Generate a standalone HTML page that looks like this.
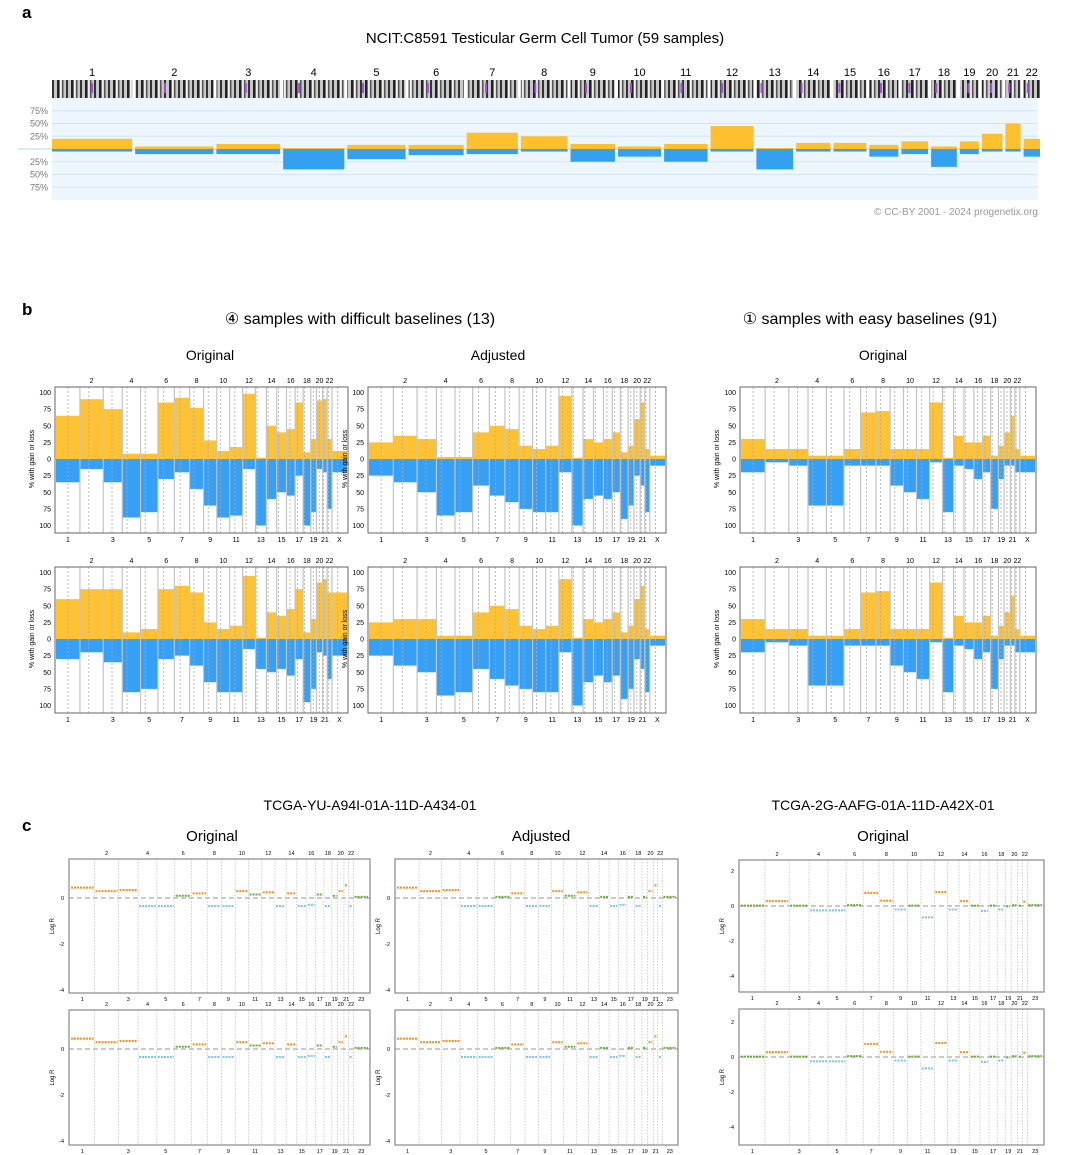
<!DOCTYPE html>
<html><head><meta charset="utf-8"><style>
body{margin:0;background:#fff;font-family:"Liberation Sans",sans-serif}
svg{display:block}
</style></head><body>
<svg id="fig" width="1065" height="1155" viewBox="0 0 1065 1155" xmlns="http://www.w3.org/2000/svg" font-family="Liberation Sans, sans-serif">
<text x="22" y="18" font-size="17" font-weight="bold">a</text>
<text x="545" y="43" font-size="15" text-anchor="middle">NCIT:C8591 Testicular Germ Cell Tumor (59 samples)</text>
<text x="1038" y="215" font-size="10" fill="#999" text-anchor="end">© CC-BY 2001 - 2024 progenetix.org</text>
<text x="22" y="315" font-size="17" font-weight="bold">b</text>
<text x="360" y="324" font-size="16" text-anchor="middle">④ samples with difficult baselines (13)</text>
<text x="870" y="324" font-size="16" text-anchor="middle">① samples with easy baselines (91)</text>
<text x="210" y="360" font-size="14" text-anchor="middle">Original</text>
<text x="498" y="360" font-size="14" text-anchor="middle">Adjusted</text>
<text x="883" y="360" font-size="14" text-anchor="middle">Original</text>
<text x="22" y="831" font-size="17" font-weight="bold">c</text>
<text x="370" y="810" font-size="14" text-anchor="middle">TCGA-YU-A94I-01A-11D-A434-01</text>
<text x="883" y="810" font-size="14" text-anchor="middle">TCGA-2G-AAFG-01A-11D-A42X-01</text>
<text x="212" y="841" font-size="15" text-anchor="middle">Original</text>
<text x="541" y="841" font-size="15" text-anchor="middle">Adjusted</text>
<text x="883" y="841" font-size="15" text-anchor="middle">Original</text>
<g id="root"></g>
</svg>
<script>
const chromNames=["1","2","3","4","5","6","7","8","9","10","11","12","13","14","15","16","17","18","19","20","21","22","X"];
const chromLen=[249,243,198,190,181,171,159,145,138,134,135,133,114,107,102,90,83,80,59,64,47,51,156];
const centro=[0.5,0.38,0.46,0.26,0.27,0.35,0.38,0.31,0.35,0.3,0.4,0.27,0.14,0.16,0.18,0.4,0.3,0.2,0.45,0.45,0.25,0.25,0.38];
// panel a
const aGain=[20,5,10,2,8,8,32,25,10,5,10,45,2,12,12,8,15,5,15,30,50,20];
const aLoss=[5,10,10,40,20,12,10,5,25,15,25,5,40,5,5,15,10,35,10,5,5,15];
// panel b
const bOrigGain=[65,90,75,8,8,85,92,77,28,12,18,98,2,50,40,45,85,10,30,88,90,30,12];
const bOrigLoss=[35,15,35,88,80,30,20,45,70,88,85,15,100,60,50,55,25,100,80,15,20,75,20];
const bAdjGain=[25,35,30,3,3,40,50,45,20,15,20,95,2,30,25,30,40,10,20,60,85,15,5];
const bAdjLoss=[25,35,50,85,80,40,55,65,75,80,80,20,100,60,55,60,50,90,70,25,40,80,10];
const bOrig2Gain=[60,75,75,10,15,75,80,70,25,15,20,95,2,40,35,45,75,10,30,85,90,70,70];
const bOrig2Loss=[30,20,35,80,75,30,25,40,65,80,80,15,45,50,45,55,30,95,75,20,25,60,25];
const bAdj2Gain=[25,30,30,5,5,40,50,45,20,15,20,90,2,30,25,30,40,10,20,60,80,15,5];
const bAdj2Loss=[25,40,50,85,80,45,60,70,75,80,80,20,100,65,55,65,55,90,75,30,45,80,10];
const bEasyGain=[30,15,15,5,5,15,70,72,15,15,15,85,2,35,25,25,35,5,20,40,65,15,5];
const bEasyLoss=[20,5,10,70,70,10,10,10,40,50,60,5,80,10,15,30,20,75,30,10,10,20,20];
// panel c (log R per chromosome)
const cOrig=[0.45,0.3,0.35,-0.35,-0.35,0.1,0.2,-0.35,-0.35,0.3,0.15,0.25,-0.35,0.2,-0.35,-0.3,0.15,-0.35,0.1,0.3,0.55,-0.35,0.05];
const cAdj=[0.45,0.3,0.35,-0.35,-0.35,0.05,0.2,-0.35,-0.35,0.3,0.1,0.25,-0.35,0.05,-0.35,-0.3,0.05,-0.35,0.05,0.3,0.55,-0.35,0.05];
const cEasy=[0.02,0.28,0.02,-0.25,-0.25,0.05,0.75,0.3,-0.2,0.02,-0.65,0.8,-0.2,0.28,0.02,-0.28,0.02,-0.2,-0.02,0.05,0.02,0.25,0.05];
const bTicks=["100","75","50","25","0","25","50","75","100"];

const NS="http://www.w3.org/2000/svg";
const root=document.getElementById('root');
function mk(tag,attrs,parent){const e=document.createElementNS(NS,tag);for(const k in attrs)e.setAttribute(k,attrs[k]);(parent||root).appendChild(e);return e;}
function layout(n,x0,x1,gap){let tot=0;for(let i=0;i<n;i++)tot+=chromLen[i];const w=(x1-x0-gap*(n-1));let x=x0;const out=[];for(let i=0;i<n;i++){const cw=chromLen[i]/tot*w;out.push([x,x+cw]);x+=cw+gap;}return out;}

(function(){
 const defs=mk('defs',{});
 const p=mk('pattern',{id:'band',width:14,height:19,patternUnits:'userSpaceOnUse'},defs);
 mk('rect',{x:0,y:0,width:14,height:19,fill:'#c8c8c8'},p);
 mk('rect',{x:1,y:0,width:2.5,height:19,fill:'#222'},p);
 mk('rect',{x:6,y:0,width:1.5,height:19,fill:'#555'},p);
 mk('rect',{x:10,y:0,width:2,height:19,fill:'#333'},p);
 mk('rect',{x:4,y:0,width:1.5,height:19,fill:'#eee'},p);
})();

// ---- panel a ----
(function(){
 const x0=52,x1=1038,top=98,bot=200,zero=149,s=0.51;
 const bg=mk('rect',{x:x0,y:top,width:x1-x0,height:bot-top,fill:'#eef6fd'});
 
 [25,50,75].forEach((p)=>{[1,-1].forEach(sg=>{const y=zero-sg*p*s;
  const l=mk('line',{x1:x0,x2:x1,y1:y,y2:y,stroke:'#cfe6f5','stroke-width':1});
  
  const t=mk('text',{x:48,y:y+3,'font-size':9,fill:'#777','text-anchor':'end'});t.textContent=p+'%';
  });});
 const zl=mk('line',{x1:18,x2:x1,y1:zero,y2:zero,stroke:'#a8d8f0','stroke-width':1});
 
 const L=layout(22,52,1040,3);
 L.forEach((c,i)=>{
  const t=mk('text',{x:(c[0]+c[1])/2,y:76,'font-size':11,'text-anchor':'middle'});t.textContent=chromNames[i];
  
  const id=mk('rect',{x:c[0],y:80,width:c[1]-c[0],height:18,fill:'url(#band)'});
  
  const cx=c[0]+(c[1]-c[0])*centro[i];
  const ce=mk('rect',{x:cx-1,y:83,width:2,height:10,fill:'#a050e0'});
  
  const g=mk('rect',{x:c[0],y:zero-aGain[i]*s,width:c[1]-c[0],height:aGain[i]*s,fill:'#ffc030'});
  
  const lo=mk('rect',{x:c[0],y:zero,width:c[1]-c[0],height:aLoss[i]*s,fill:'#33a1f0'});
  
 });
})();

// ---- panel b ----
function bPanel(name,x0,x1,top,gain,loss){
 const bot=top+146,zero=top+72,s=0.665;
 const L=layout(23,x0+1,x1-1,0);
 L.forEach((c,i)=>{
  const g=mk('rect',{x:c[0],y:zero-gain[i]*s,width:c[1]-c[0],height:gain[i]*s,fill:'#ffc233'});
  
  const lo=mk('rect',{x:c[0],y:zero,width:c[1]-c[0],height:loss[i]*s,fill:'#35a0f5'});
  
  if(i>0){const l=mk('line',{x1:c[0],x2:c[0],y1:top,y2:bot,stroke:'#c4c4c4','stroke-width':1.2});
   }
  const cx=c[0]+(c[1]-c[0])*centro[i];
  const d=mk('line',{x1:cx,x2:cx,y1:top,y2:bot,stroke:'#aaa','stroke-width':0.8,'stroke-dasharray':'2,2'});
  
  const t=mk('text',{x:(c[0]+c[1])/2,y:i%2?top-4:bot+9,'font-size':7,'text-anchor':'middle'});t.textContent=chromNames[i];
  
 });
 const box=mk('rect',{x:x0,y:top,width:x1-x0,height:bot-top,fill:'none',stroke:'#666','stroke-width':1});
 
 bTicks.forEach((tk,i)=>{const y=zero-(100-i*25)*s;
  const t=mk('text',{x:x0-4,y:y+2.5,'font-size':7,'text-anchor':'end'});t.textContent=tk;
  });
 const yt=mk('text',{x:0,y:0,'font-size':7,'text-anchor':'middle',transform:`translate(${x0-21},${zero}) rotate(-90)`});
 yt.textContent='% with gain or loss';
}
bPanel('b-orig1',55,348,387,bOrigGain,bOrigLoss);
bPanel('b-adj1',368,666,387,bAdjGain,bAdjLoss);
bPanel('b-easy1',740,1036,387,bEasyGain,bEasyLoss);
bPanel('b-orig2',55,348,567,bOrig2Gain,bOrig2Loss);
bPanel('b-adj2',368,666,567,bAdj2Gain,bAdj2Loss);
bPanel('b-easy2',740,1036,567,bEasyGain,bEasyLoss);

// ---- panel c ----
function cPanel(name,x0,x1,top,bot,zero,ppu,lev){
 const L=layout(23,x0+1,x1-1,0);
 const dz=mk('line',{x1:x0,x2:x1,y1:zero,y2:zero,stroke:'#aaa','stroke-width':1.2,'stroke-dasharray':'5,3'});
 
 L.forEach((c,i)=>{
  if(i>0){const l=mk('line',{x1:c[0],x2:c[0],y1:top,y2:bot,stroke:'#bbb','stroke-width':0.7,'stroke-dasharray':'1.5,1.5'});
   }
  const v=lev[i];const col=v>0.15?'#ff8c1a':(v<-0.15?'#7cc4ea':'#6aaa3a');
  const y=zero-v*ppu;
  const seg=mk('line',{x1:c[0]+1,x2:c[1]-1,y1:y,y2:y,stroke:col,'stroke-width':2,'stroke-dasharray':'2,1'});
  
  const t=mk('text',{x:(c[0]+c[1])/2,y:i%2?top-4:bot+8,'font-size':5.5,'text-anchor':'middle'});t.textContent=i==22?'23':chromNames[i];
  
 });
 const box=mk('rect',{x:x0,y:top,width:x1-x0,height:bot-top,fill:'none',stroke:'#888','stroke-width':1.2});
 
 [2,0,-2,-4].forEach(v=>{const y=zero-v*ppu;if(y<top||y>bot+2)return;
  const t=mk('text',{x:x0-5,y:y+2,'font-size':5.5,'text-anchor':'end'});t.textContent=v;
  });
 const yt=mk('text',{x:0,y:0,'font-size':6,'text-anchor':'middle',transform:`translate(${x0-15},${(top+bot)/2}) rotate(-90)`});
 yt.textContent='Log R';
}
cPanel('c-orig1',69,370,859,993,898,23,cOrig);
cPanel('c-adj1',395,678,859,993,898,23,cAdj);
cPanel('c-easy1',739,1044,860,992,906,17.5,cEasy);
cPanel('c-orig2',69,370,1010,1145,1049,23,cOrig);
cPanel('c-adj2',395,678,1010,1145,1049,23,cAdj);
cPanel('c-easy2',739,1044,1009,1145,1057,17.5,cEasy);
</script>
</body></html>
